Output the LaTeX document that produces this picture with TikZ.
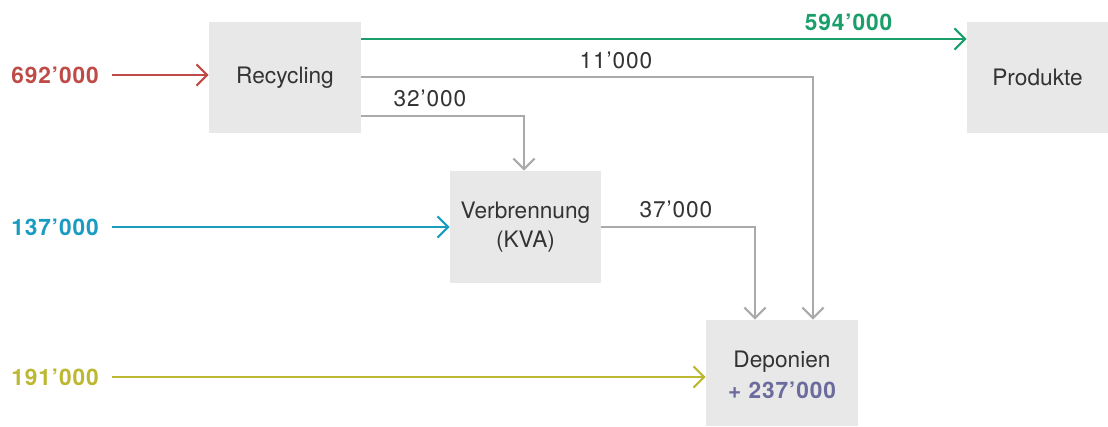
\documentclass[tikz,border=0pt]{standalone}
\usepackage{fontspec}
\setmainfont{TeX Gyre Heros}
\usetikzlibrary{arrows.meta,positioning}
\definecolor{boxfill}{HTML}{E8E8E8}
\definecolor{txt}{HTML}{333333}
\definecolor{flowgray}{HTML}{AAAAAA}
\definecolor{cred}{HTML}{BE4B48}
\definecolor{cgreen}{HTML}{1A9E6A}
\definecolor{cblue}{HTML}{1A9BC0}
\definecolor{cyellow}{HTML}{BDB832}
\definecolor{cpurple}{HTML}{6B6B9E}
\begin{document}
\begin{tikzpicture}[x=0.75pt,y=-0.75pt,
  boxnode/.style={fill=boxfill,inner sep=0pt,text=txt,align=center,font=\fontsize{17}{22}\selectfont},
  flowlabel/.style={inner sep=0pt,text=txt,font=\fontsize{17}{20}\selectfont\addfontfeatures{LetterSpace=4}},
  inlabel/.style={inner sep=0pt,font=\fontsize{17}{20}\selectfont\bfseries\addfontfeatures{LetterSpace=4}},
  flow/.style={line width=1.6pt,-{Straight Barb[length=8pt,width=16pt,line width=1.6pt]}},
  graywire/.style={flow,draw=flowgray}]
\useasboundingbox (0,0) rectangle (1108,427);
% boxes
\node[boxnode,minimum width=152*0.75pt,minimum height=111*0.75pt] (rec) at (285,77.5) {Recycling};
\node[boxnode,minimum width=141*0.75pt,minimum height=111*0.75pt] (prod) at (1037.5,77.5) {Produkte};
\node[boxnode,minimum width=151*0.75pt,minimum height=112*0.75pt] (kva) at (525.5,227) {Verbrennung\\(KVA)};
\node[boxnode,minimum width=152*0.75pt,minimum height=106*0.75pt] (dep) at (782,373) {};
\node[boxnode,fill=none] (deptxt) at (782,362) {Deponien};
\node[inlabel,text=cpurple] (depval) at (782,390) {+ 237’000};
% input labels
\node[inlabel,text=cred,anchor=west] (in1) at (11,75) {692’000};
\node[inlabel,text=cblue,anchor=west] (in2) at (11,227) {137’000};
\node[inlabel,text=cyellow,anchor=west] (in3) at (11,377) {191’000};
\coordinate (s1) at (112,75);
\coordinate (s2) at (112,227);
\coordinate (s3) at (112,377);
% input flows
\draw[flow,draw=cred] (s1) -- (rec.west |- s1);
\draw[flow,draw=cblue] (s2) -- (kva.west |- s2);
\draw[flow,draw=cyellow] (s3) -- (dep.west |- s3);
% outputs
\coordinate (g1) at (361,39);
\draw[flow,draw=cgreen] (g1) -- (prod.west |- g1);
\node[inlabel,text=cgreen] (l594) at (848.5,22) {594’000};
\coordinate (r11) at (361,77);
\coordinate (c11) at (813,77);
\draw[graywire] (r11) -- (c11) -- (c11 |- dep.north);
\node[flowlabel] (l11) at (616,60) {11’000};
\coordinate (r32) at (361,116);
\coordinate (c32) at (524,116);
\draw[graywire] (r32) -- (c32) -- (c32 |- kva.north);
\node[flowlabel] (l32) at (430,98) {32’000};
\coordinate (k37) at (601,227);
\coordinate (c37) at (755,227);
\draw[graywire] (k37) -- (c37) -- (c37 |- dep.north);
\node[flowlabel] (l37) at (676,209) {37’000};
\end{tikzpicture}
\end{document}
